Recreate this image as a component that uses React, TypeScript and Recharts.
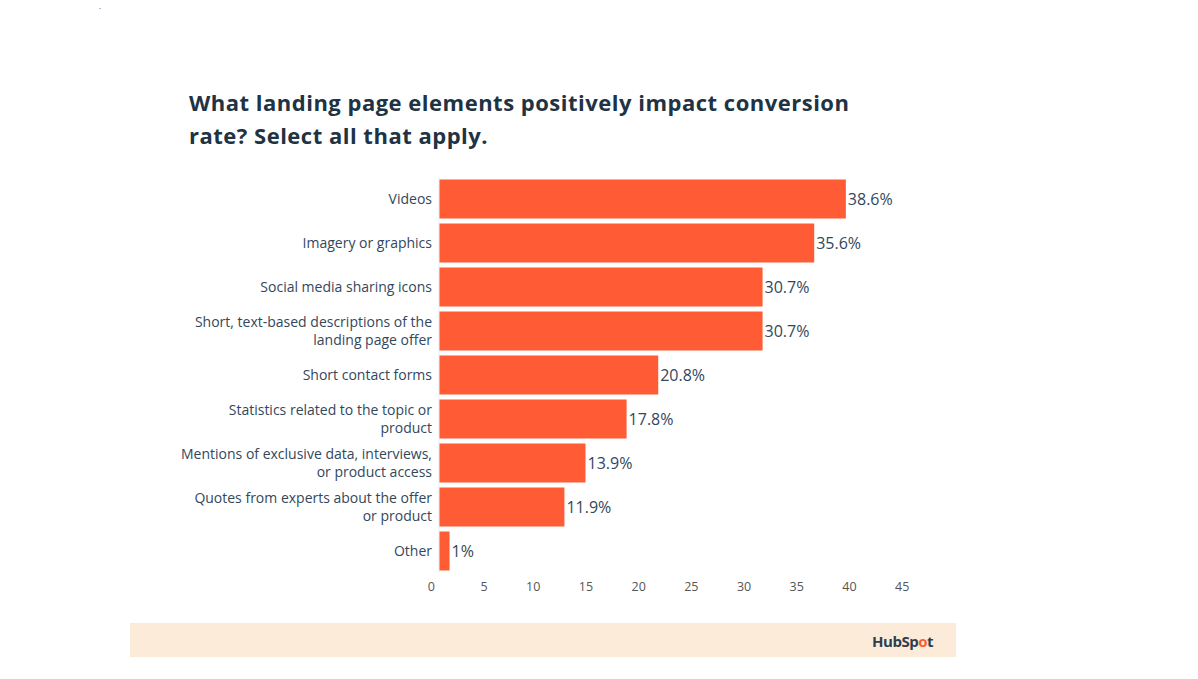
import React from 'react';
import { BarChart, Bar, XAxis, YAxis, LabelList } from 'recharts';

const categories = [
  'Videos',
  'Imagery or graphics',
  'Social media sharing icons',
  'Short, text-based descriptions of the\nlanding page offer',
  'Short contact forms',
  'Statistics related to the topic or\nproduct',
  'Mentions of exclusive data, interviews,\nor product access',
  'Quotes from experts about the offer\nor product',
  'Other',
];
const values = [38.6, 35.6, 30.7, 30.7, 20.8, 17.8, 13.9, 11.9, 1];
const xTicks = [0, 5, 10, 15, 20, 25, 30, 35, 40, 45];
const titleLines = [
  'What landing page elements positively impact conversion',
  'rate? Select all that apply.',
];

const data = categories.map((c, i) => ({ name: c, value: values[i] }));

const FONT = "'Open Sans', 'DejaVu Sans', sans-serif";
const TEXT = '#33475b';
const ORANGE = '#ff5c35';

const CatTick = (props: any) => {
  const { x, y, payload } = props;
  const lines = String(payload.value).split('\n');
  const lh = 17.4;
  const start = -((lines.length - 1) * lh) / 2 + 4.8;
  return (
    <text x={x} y={y} textAnchor="end" fill={TEXT} fontSize={14} fontFamily={FONT}>
      {lines.map((l, i) => (
        <tspan key={i} x={x} dy={i === 0 ? start : lh}>
          {l}
        </tspan>
      ))}
    </text>
  );
};

const NumTick = (props: any) => {
  const { x, y, payload } = props;
  return (
    <text x={x - 4} y={y + 18} textAnchor="end" fill="#555" fontSize={12.5} fontFamily={FONT}>
      {payload.value}
    </text>
  );
};

export default function App() {
  return (
    <div style={{ position: 'absolute', left: 0, top: 0, width: 1198, height: 679, background: '#fff', overflow: 'hidden' }}>
      <div style={{ position: 'absolute', left: 130, top: 623, width: 826, height: 34, background: '#fdebd9' }} />
      <svg width={1198} height={679} style={{ position: 'absolute', left: 0, top: 0 }}>
        <text x={99} y={9} fontSize={8} fill="#333" fontFamily={FONT}>.</text>
        {titleLines.map((t, i) => (
          <text key={i} x={189} y={111 + i * 33} fontSize={22} fontWeight={700} fill="#213343" fontFamily={FONT} letterSpacing={0.5}>
            {t}
          </text>
        ))}
        <text x={933} y={647} textAnchor="end" fontSize={15} fontWeight={700} fill="#2d3e50" fontFamily={FONT} letterSpacing={-0.5}>
          HubSp<tspan fill={ORANGE}>o</tspan>t
        </text>
      </svg>
      <div style={{ position: 'absolute', left: 0, top: 0 }}>
        <BarChart
          width={1198}
          height={679}
          data={data}
          layout="vertical"
          margin={{ top: 177, right: 284.7, bottom: 76, left: 0 }}
          barCategoryGap={2.5}
        >
          <XAxis
            type="number"
            domain={[0, 45]}
            ticks={xTicks}
            axisLine={false}
            tickLine={false}
            tickSize={0}
            tickMargin={0}
            height={30}
            tick={<NumTick />}
            interval={0}
          />
          <YAxis
            type="category"
            dataKey="name"
            width={439}
            axisLine={{ stroke: '#eeeeee' }}
            tickLine={false}
            tickSize={0}
            tickMargin={7}
            tick={<CatTick />}
            interval={0}
          />
          <Bar dataKey="value" fill={ORANGE} isAnimationActive={false}>
            <LabelList
              dataKey="value"
              position="right"
              offset={2}
              formatter={(v: any) => `${v}%`}
              style={{ fill: TEXT, fontSize: 16, fontFamily: FONT }}
            />
          </Bar>
        </BarChart>
      </div>
    </div>
  );
}
